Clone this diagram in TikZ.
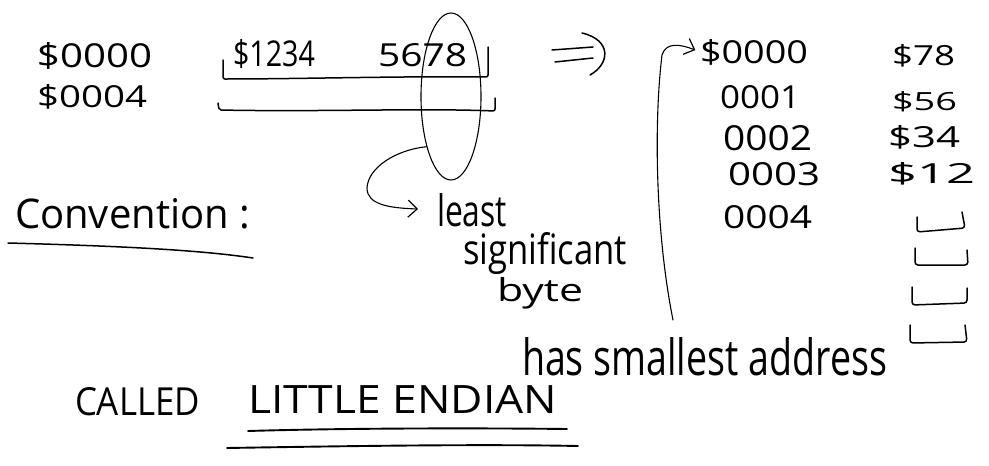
\documentclass[tikz,border=0pt]{standalone}
\usepackage{fontspec}
\setmainfont{Open Sans}
\usepackage{graphicx}
\usetikzlibrary{arrows.meta,shapes.geometric}
\newcommand{\hwtext}[3]{\resizebox{#1pt}{#2pt}{#3}}
\begin{document}
\begin{tikzpicture}[x=1pt,y=-1pt,
  hw/.style={inner sep=0pt,outer sep=0pt,anchor=base west},
  pen/.style={line width=1.5pt,line cap=round,line join=round},
  thinpen/.style={line width=1.1pt,line cap=round,line join=round},
  thickpen/.style={line width=1.9pt,line cap=round,line join=round},
  barb/.style={-{Straight Barb[length=9pt,width=17pt,line width=1.2pt]}}]
\fill[white] (0,0) rectangle (989,466);
\useasboundingbox (0,0) rectangle (989,466);

% left addresses
\node[hw] (l0) at (37,67) {\hwtext{115}{25}{\$0000}};
\node[hw] (l1) at (37,107) {\hwtext{110}{23}{\$0004}};

% word in memory
\node[hw] (wa) at (233,66) {\hwtext{82}{27}{\$1234}};
\node[hw] (wb) at (378,66) {\hwtext{89}{23}{5678}};
\draw[pen,rounded corners=2pt] (223,60) -- (223,79) .. controls (300,79) and (400,76) .. (488,77) -- (488,47);
\draw[pen,rounded corners=2pt] (218,103) -- (219,110) .. controls (320,112) and (420,108) .. (495,111) -- (495,98);

% ellipse round the least significant byte
\node[draw,thinpen,ellipse,minimum width=60pt,minimum height=167pt,inner sep=0pt] (ell) at (451,96.5) {};

% implies arrow
\draw[pen] (552,50) -- (593,47);
\draw[pen] (555,62) -- (593,58);
\draw[pen] (582,33) .. controls (612,40) and (610,64) .. (590,75);

% right column: addresses
\node[hw] (r0) at (700,63) {\hwtext{108}{24}{\$0000}};
\node[hw] (r1) at (720,108) {\hwtext{80}{23}{0001}};
\node[hw] (r2) at (723,150) {\hwtext{89}{25}{0002}};
\node[hw] (r3) at (728,185) {\hwtext{92}{23}{0003}};
\node[hw] (r4) at (723,228) {\hwtext{89}{23}{0004}};

% right column: values
\node[hw] (v0) at (892,65) {\hwtext{63}{21}{\$78}};
\node[hw] (v1) at (892,110) {\hwtext{65}{19}{\$56}};
\node[hw] (v2) at (888,147) {\hwtext{72}{22}{\$34}};
\node[hw] (v3) at (888,183) {\hwtext{87}{21}{\$12}};

% empty cells
\draw[pen,rounded corners=3pt] (917,217) -- (917,232) -- (965,228) -- (962,212);
\draw[pen,rounded corners=3pt] (915,248) -- (915,265) -- (968,265) -- (967,250);
\draw[pen,rounded corners=3pt] (912,287) -- (912,305) -- (967,303) -- (967,288);
\draw[pen,rounded corners=3pt] (910,325) -- (910,343) -- (967,342) -- (965,325);

% Convention
\node[hw] (conv) at (15,228) {\hwtext{235}{30}{Convention :}};
\draw[pen] (8,243) .. controls (120,246) and (200,250) .. (253,258);

% least significant byte
\node[hw] (least) at (437,226) {\hwtext{70}{33}{least}};
\node[hw] (sig) at (463,264) {\hwtext{164}{32}{significant}};
\node[hw] (byte) at (497,301) {\hwtext{86}{24}{byte}};
\draw[thinpen,barb,shorten >=19pt] (ell.244) .. controls (395,150) and (368,168) .. (367,188)
  .. controls (367,205) and (390,208) .. (least.west);

% has smallest address
\node[hw] (has) at (522,375) {\hwtext{365}{38}{has smallest address}};
\coordinate (lb) at (673,320);
\draw[thinpen,barb,shorten >=5pt] (lb) .. controls (655,230) and (654,120) .. (662,55)
  .. controls (666,42) and (680,44) .. (r0.west);

% called little endian
\node[hw] (called) at (75,415) {\hwtext{125}{28}{CALLED}};
\node[hw] (little) at (248,413) {\hwtext{309}{28}{LITTLE ENDIAN}};
\draw[thickpen] (248,431) .. controls (350,428) and (480,428) .. (567,429);
\draw[thickpen] (227,448) .. controls (350,446) and (480,444) .. (578,446);
\end{tikzpicture}
\end{document}
